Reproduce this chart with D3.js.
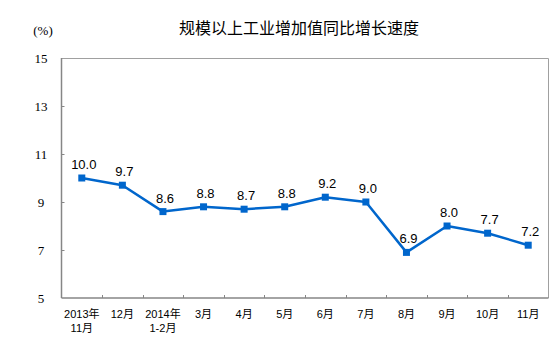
<!DOCTYPE html>
<html>
<head>
<meta charset="utf-8">
<script src="https://cdn.jsdelivr.net/npm/d3@7"></script>
<style>
  body { margin: 0; background: #fff; }
  svg { display: block; }
</style>
</head>
<body>
<svg id="chart" width="559" height="342"></svg>
<script>
// Monthly industrial value-added growth, year on year (%)
const categories = ["2013年\n11月", "12月", "2014年\n1-2月", "3月", "4月", "5月", "6月", "7月", "8月", "9月", "10月", "11月"];
const values = [10.0, 9.7, 8.6, 8.8, 8.7, 8.8, 9.2, 9.0, 6.9, 8.0, 7.7, 7.2];
const yTicks = [5, 7, 9, 11, 13, 15];
const title = "规模以上工业增加值同比增长速度";
const unit = "(%)";

(function draw() {
  const svg = d3.select("#chart");
  const mLeft = 61.5, mRight = 548.5, mTop = 58, mBottom = 298;

  const x = d3.scaleBand().domain(categories).range([mLeft, mRight]);
  const y = d3.scaleLinear().domain([5, 15]).range([mBottom, mTop]);

  // Frame: top and right edges
  svg.append("path")
    .attr("d", `M${mLeft},${mTop + 0.5}H${mRight}V${mBottom}`)
    .attr("fill", "none").attr("stroke", "#a0a0a0").attr("stroke-width", 1);

  // Y axis with short inward ticks
  svg.append("line").attr("x1", mLeft).attr("x2", mLeft).attr("y1", mTop).attr("y2", mBottom)
    .attr("stroke", "#868686").attr("stroke-width", 1.5);
  svg.selectAll(".ytick").data(yTicks.filter(t => t !== 15 && t !== 5)).enter().append("line")
    .attr("x1", mLeft).attr("x2", mLeft + 3)
    .attr("y1", d => Math.round(y(d)) + 0.5).attr("y2", d => Math.round(y(d)) + 0.5)
    .attr("stroke", "#868686");
  svg.selectAll(".ylab").data(yTicks).enter().append("text")
    .attr("x", 41).attr("y", d => y(d) + 4.5)
    .attr("text-anchor", "middle")
    .attr("font-family", "'Liberation Serif', 'Times New Roman', serif")
    .attr("font-size", 13).attr("fill", "#000")
    .text(d => d);

  // X axis with tick marks at category boundaries
  svg.append("line").attr("x1", mLeft).attr("x2", mRight).attr("y1", mBottom).attr("y2", mBottom)
    .attr("stroke", "#868686").attr("stroke-width", 1.5);
  const bounds = categories.slice(1).map(c => x(c));
  svg.selectAll(".xtick").data(bounds).enter().append("line")
    .attr("x1", d => Math.round(d) + 0.5).attr("x2", d => Math.round(d) + 0.5)
    .attr("y1", mBottom).attr("y2", mBottom - 3)
    .attr("stroke", "#868686");

  const xl = svg.selectAll(".xlab").data(categories).enter().append("text")
    .attr("text-anchor", "middle")
    .attr("font-family", "Arial, 'Liberation Sans', 'Noto Sans CJK SC', sans-serif")
    .attr("font-size", 11).attr("fill", "#000");
  xl.each(function(d) {
    const lines = d.split("\n");
    const cx = x(d) + x.bandwidth() / 2;
    lines.forEach((ln, i) => {
      d3.select(this).append("tspan").attr("x", cx).attr("y", 318 + i * 14).text(ln);
    });
  });

  // Title and unit
  svg.append("text").attr("x", 299).attr("y", 34).attr("text-anchor", "middle")
    .attr("font-family", "'Noto Sans CJK SC', sans-serif").attr("font-size", 16)
    .attr("fill", "#000").text(title);
  svg.append("text").attr("x", 43).attr("y", 35).attr("text-anchor", "middle")
    .attr("font-family", "'Liberation Serif', 'Times New Roman', serif").attr("font-size", 13)
    .attr("fill", "#000").text(unit);

  // Series line
  const pts = categories.map((c, i) => [x(c) + x.bandwidth() / 2, y(values[i])]);
  svg.append("path")
    .attr("d", d3.line()(pts))
    .attr("fill", "none").attr("stroke", "#0066cc").attr("stroke-width", 2.5)
    .attr("stroke-linejoin", "round");
  svg.selectAll(".mk").data(pts).enter().append("rect")
    .attr("x", d => d[0] - 3.5).attr("y", d => d[1] - 3.5)
    .attr("width", 7).attr("height", 7).attr("fill", "#0066cc");

  // Value labels
  svg.selectAll(".vl").data(values).enter().append("text")
    .attr("x", (d, i) => pts[i][0] + 2).attr("y", (d, i) => pts[i][1] - 9)
    .attr("text-anchor", "middle")
    .attr("font-family", "Arial, 'Liberation Sans', sans-serif").attr("font-size", 13)
    .attr("fill", "#000")
    .text(d => d.toFixed(1));
})();
</script>
</body>
</html>
